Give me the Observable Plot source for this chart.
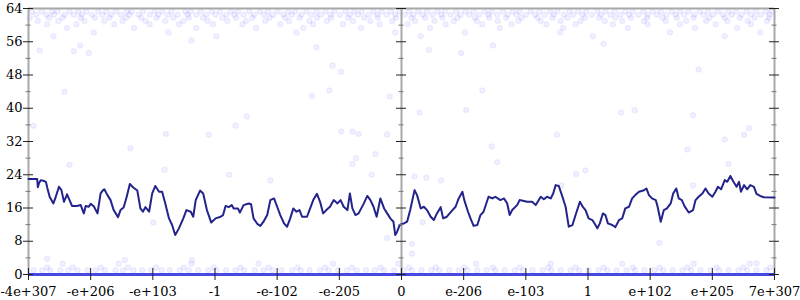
<!DOCTYPE html>
<html><head><meta charset="utf-8">
<script src="https://cdn.jsdelivr.net/npm/d3@7"></script>
<script src="https://cdn.jsdelivr.net/npm/@observablehq/plot@0.6"></script>
<style>body{margin:0;background:#fff} svg text{font-family:"DejaVu Serif",serif !important}</style>
</head><body><div id="chart"></div>
<script>
// ---- tick labels / ticks ----
const xLabels = ["-4e+307","-e+206","-e+103","-1","-e-102","-e-205","0","e-206","e-103","1","e+102","e+205","7e+307"];
const xTicks = [0,1,2,3,4,5,6,7,8,9,10,11,12];
const yMajor = [0,8,16,24,32,40,48,56,64];
const yMinor = [4,12,20,28,36,44,52,60];
const axisPositions = [0,6,12];

// ---- smoothed line series ----
const lineX = [0,0.14,0.15,0.17,0.20,0.25,0.28,0.30,0.34,0.40,0.43,0.49,0.53,0.57,0.62,0.66,0.70,0.78,0.84,0.89,0.92,0.97,1.00,1.05,1.11,1.16,1.20,1.22,1.27,1.32,1.37,1.44,1.48,1.53,1.58,1.63,1.68,1.75,1.80,1.84,1.88,1.94,1.99,2.04,2.10,2.15,2.20,2.26,2.31,2.36,2.42,2.49,2.54,2.61,2.65,2.69,2.76,2.81,2.87,2.94,3.01,3.09,3.13,3.17,3.22,3.27,3.30,3.37,3.40,3.46,3.54,3.58,3.62,3.68,3.73,3.78,3.84,
3.89,3.95,4.00,4.05,4.11,4.16,4.21,4.26,4.31,4.36,4.40,4.48,4.52,4.58,4.64,4.69,4.74,4.79,4.85,4.91,4.97,5.02,5.07,5.13,5.17,5.21,5.26,5.31,5.39,5.45,5.50,5.55,5.60,5.66,5.72,5.77,5.82,5.87,5.90,5.93,5.97,6.04,6.09,6.14,6.21,6.25,6.31,6.36,6.41,6.47,6.52,6.57,6.63,6.67,6.73,6.82,6.87,6.92,6.98,7.01,7.07,7.11,7.16,7.22,7.27,7.32,7.40,7.46,7.51,7.59,7.65,7.70,7.74,7.78,7.86,7.90,7.97,8.02,8.10,8.16,8.24,
8.29,8.34,8.40,8.44,8.48,8.53,8.58,8.64,8.69,8.75,8.80,8.87,8.92,8.96,9.01,9.07,9.12,9.15,9.19,9.24,9.28,9.32,9.39,9.44,9.50,9.55,9.60,9.66,9.71,9.76,9.82,9.89,9.94,9.98,10.03,10.09,10.12,10.17,10.22,10.27,10.33,10.37,10.42,10.46,10.51,10.55,10.62,10.69,10.73,10.78,10.84,10.89,10.94,11.00,11.05,11.09,11.14,11.20,11.24,11.29,11.34,11.39,11.43,11.46,11.51,11.56,11.61,11.67,11.71,11.77,11.83,12];
const lineY = [23.0,23.0,21.0,22.0,22.7,22.5,22.3,21.0,18.7,17.1,18.3,21.1,20.3,17.5,19.3,17.9,16.5,16.5,16.7,14.7,16.5,16.3,17.0,16.4,14.7,19.5,20.3,20.5,19.1,17.9,15.5,13.8,15.5,16.1,18.7,21.8,21.0,20.2,15.9,15.1,16.2,15.1,19.5,21.3,19.9,19.9,17.1,13.5,11.9,9.5,11.1,13.5,15.5,15.1,13.9,17.9,20.2,19.5,15.5,12.5,13.5,13.9,14.3,16.5,16.2,16.7,15.9,15.9,14.9,16.7,17.1,16.9,13.5,12.2,11.7,12.7,14.3,
17.9,18.3,16.3,14.3,12.3,11.5,13.5,15.9,15.1,15.5,13.9,13.9,15.5,17.9,19.4,17.5,14.7,15.5,16.3,17.9,17.1,17.9,16.3,15.5,19.5,15.9,14.3,14.7,17.0,18.9,17.9,16.3,13.9,18.3,15.9,14.7,13.5,12.7,9.5,10.3,11.9,12.3,12.7,15.5,20.3,19.1,15.9,16.3,15.5,13.9,13.1,14.7,16.2,13.5,13.9,15.5,16.3,18.3,19.9,17.9,15.1,13.5,11.7,11.9,14.3,15.1,18.7,18.3,18.7,17.9,18.3,17.1,14.3,15.5,16.7,17.9,17.7,17.5,17.5,16.7,18.7,
18.1,18.7,18.3,19.5,21.5,21.3,19.1,16.3,11.5,11.9,14.3,17.5,16.2,15.5,13.5,13.1,11.9,11.1,12.3,14.7,14.3,12.3,11.9,11.4,13.1,13.5,15.9,16.3,18.3,19.1,19.9,20.2,20.7,19.1,18.3,17.9,16.3,12.7,15.5,15.9,17.1,19.5,20.7,18.3,17.9,16.5,14.9,15.5,17.9,18.7,19.5,20.7,19.5,18.7,19.9,21.1,20.5,22.7,22.3,23.7,22.3,21.1,22.3,19.9,21.5,20.5,21.5,21.1,19.4,18.9,18.6,18.5];

// ---- scattered samples (rows of x positions, one y per row) ----
const topRowY = [63.3, 62.5, 61.8, 61.0, 60.2, 59.3, 58.2, 57.3];
const topRowX = [
 [0.05,0.21,0.38,0.47,0.66,0.80,0.93,1.12,1.25,1.41,1.58,1.66,1.84,2.03,2.15,2.30,2.52,2.61,2.77,2.95,3.08,3.26,3.37,3.55,3.72,3.85,4.01,4.18,4.29,4.47,4.63,4.78,4.92,5.10,5.24,5.36,5.55,5.68,5.83,5.97,6.12,6.27,6.41,6.58,6.70,6.88,7.03,7.16,7.34,7.45,7.63,7.79,7.90,8.08,8.22,8.39,8.51,8.70,8.84,8.97,9.15,9.28,9.43,9.60,9.72,9.89,10.04,10.17,10.35,10.48,10.62,10.80,10.93,11.09,11.26,11.38,11.55,11.70,11.86,11.96],
 [0.12,0.29,0.41,0.58,0.73,0.86,1.02,1.19,1.33,1.49,1.62,1.77,1.95,2.09,2.24,2.40,2.56,2.70,2.86,3.01,3.18,3.31,3.46,3.63,3.79,3.93,4.10,4.23,4.39,4.55,4.70,4.86,5.01,5.17,5.30,5.47,5.61,5.76,5.90,6.05,6.19,6.34,6.50,6.64,6.79,6.95,7.09,7.25,7.40,7.54,7.71,7.85,8.00,8.15,8.30,8.45,8.61,8.76,8.91,9.06,9.21,9.36,9.52,9.66,9.81,9.96,10.11,10.26,10.41,10.55,10.71,10.86,11.01,11.17,11.31,11.47,11.62,11.78,11.92],
 [0.02,0.33,0.55,0.84,1.07,1.30,1.57,1.81,2.06,2.33,2.58,2.81,3.12,3.34,3.60,3.88,4.13,4.36,4.64,4.87,5.14,5.40,5.62,5.91,6.16,6.38,6.66,6.90,7.18,7.41,7.68,7.93,8.19,8.43,8.67,8.95,9.18,9.44,9.69,9.95,10.20,10.43,10.70,10.95,11.20,11.44,11.68,11.91],
 [0.15,0.48,0.90,1.22,1.51,1.88,2.20,2.49,2.88,3.20,3.50,3.81,4.19,4.52,4.80,5.22,5.50,5.85,6.22,6.53,6.84,7.21,7.55,7.88,8.24,8.56,8.88,9.27,9.55,9.90,10.25,10.58,10.90,11.24,11.57,11.88],
 [0.30,0.77,1.38,1.95,2.42,2.97,3.44,4.05,4.58,5.06,5.65,6.10,6.71,7.30,7.77,8.33,8.80,9.40,9.96,10.48,11.05,11.62],
 [0.62,1.70,2.70,3.66,4.42,5.35,6.46,7.58,8.60,9.64,10.72,11.40],
 [1.05,2.25,4.31,5.90,7.02,8.55,10.32,11.77],
 [0.40,3.02,6.31,9.08,11.20]
];
const bottomRowY = [1.0, 1.7, 2.6];
const bottomRowX = [
 [0.08,0.22,0.35,0.51,0.64,0.79,0.95,1.08,1.23,1.40,1.52,1.69,1.83,1.97,2.14,2.27,2.43,2.58,2.73,2.89,3.02,3.18,3.33,3.47,3.64,3.78,3.93,4.07,4.24,4.38,4.52,4.69,4.83,4.98,5.12,5.28,5.43,5.57,5.72,5.88,6.03,6.17,6.32,6.48,6.61,6.77,6.92,7.06,7.22,7.37,7.51,7.66,7.82,7.96,8.11,8.27,8.41,8.56,8.72,8.86,9.01,9.17,9.31,9.46,9.62,9.76,9.91,10.07,10.21,10.36,10.52,10.66,10.81,10.97,11.11,11.26,11.42,11.56,11.71,11.87],
 [0.30,0.71,1.16,1.60,2.05,2.50,2.98,3.41,3.86,4.33,4.77,5.20,5.66,6.12,6.55,7.01,7.47,7.90,8.36,8.80,9.25,9.72,10.15,10.60,11.07,11.50,11.93],
 [0.55,1.45,2.62,3.70,4.90,5.95,7.20,8.40,9.55,10.70,11.60]
];
const midX = [0.08,0.66,1.64,2.21,2.19,2.90,3.33,3.51,3.23,2.01,3.89,5.03,5.21,5.31,5.77,6.29,7.04,7.45,7.54,5.58,5.27,5.21,5.52,6.21,6.40,6.64,6.34,5.77,8.50,9.53,9.75,10.69,11.20,11.51,11.59,10.60,11.26,8.81,8.96,8.57,10.69,0.58,0.18,0.73,0.97,0.83,2.62,10.78,9.25,4.89,5.03,4.84,4.56,5.81,7.30,6.96,7.47,4.63,6.44,0.30,1.55,2.63,6.17,6.17,10.15,11.71];
const midY = [35.8,26.4,30.4,33.8,25.2,33.6,35.8,38.0,24.0,12.5,22.6,34.4,34.4,33.8,33.7,39.0,39.6,30.8,27.0,29.0,28.0,26.6,24.0,23.6,23.3,22.6,12.6,8.8,33.6,39.0,39.5,38.3,32.5,33.6,35.2,30.1,26.6,24.2,25.0,21.4,21.4,44.0,53.9,53.7,53.3,55.1,56.3,49.3,55.5,50.3,48.8,44.3,43.0,42.8,44.3,53.3,55.1,54.7,54.0,3.8,3.5,3.4,7.4,5.0,7.6,2.7];

// ---- build tables ----
const W = 800, H = 300, mL = 28, mR = 26, mT = 8, mB = 26;
const uPerPx = 12 / (W - mL - mR), vPerPx = 64 / (H - mT - mB);
const line = lineX.map((x, i) => ({x, y: lineY[i]}));
const pts = [];
topRowX.forEach((xs, r) => xs.forEach(x => pts.push({x, y: topRowY[r]})));
bottomRowX.forEach((xs, r) => xs.forEach(x => pts.push({x, y: bottomRowY[r]})));
midX.forEach((x, i) => pts.push({x, y: midY[i]}));
const majorTicks = axisPositions.flatMap(a => yMajor.map(y => ({a, y})));
const minorTicks = axisPositions.flatMap(a => yMinor.map(y => ({a, y})));
const font = "DejaVu Serif, serif";

const chart = Plot.plot({
  width: W, height: H,
  marginLeft: mL, marginRight: mR, marginTop: mT, marginBottom: mB,
  style: {fontFamily: font, fontSize: "13px", color: "#000", background: "#fff"},
  x: {domain: [0, 12], label: null},
  y: {domain: [0, 64], label: null},
  marks: [
    Plot.dot(pts, {x: "x", y: "y", r: 2.5, stroke: "blue", strokeOpacity: 0.06, fill: "blue", fillOpacity: 0.05}),
    Plot.ruleY([64], {stroke: "#a8a8a8", strokeWidth: 2}),
    Plot.ruleX(axisPositions, {stroke: "#a8a8a8", strokeWidth: 2}),
    Plot.line(line, {x: "x", y: "y", stroke: "#23238c", strokeWidth: 2}),
    Plot.ruleY([0], {stroke: "#4848e2", strokeWidth: 3}),
    Plot.ruleY(minorTicks, {y: "y", x1: d => d.a - 2.5 * uPerPx, x2: d => d.a + 2.5 * uPerPx, stroke: "#777"}),
    Plot.ruleY(majorTicks, {y: "y", x1: d => d.a - 5 * uPerPx, x2: d => d.a + 5 * uPerPx, stroke: "#222"}),
    Plot.ruleX(xTicks, {x: d => d, y1: -6 * vPerPx, y2: 6 * vPerPx, stroke: "#222"}),
    Plot.axisY({ticks: yMajor, tickSize: 0, tickPadding: 6, label: null, fontFamily: font, fontSize: 13}),
    Plot.axisX({ticks: xTicks, tickFormat: d => xLabels[d], tickSize: 0, tickPadding: 12, label: null, fontFamily: font, fontSize: 13})
  ]
});
document.getElementById("chart").appendChild(chart);
</script>
</body></html>
